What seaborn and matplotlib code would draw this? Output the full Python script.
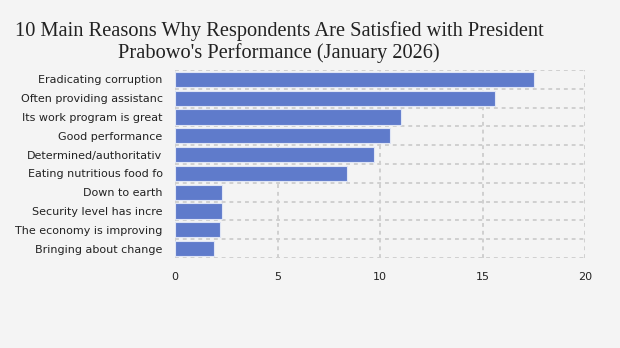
import matplotlib
matplotlib.use("Agg")
import matplotlib.pyplot as plt
import seaborn as sns
import pandas as pd

categories = [
    "Eradicating corruption",
    "Often providing assistanc",
    "Its work program is great",
    "Good performance",
    "Determined/authoritativ",
    "Eating nutritious food fo",
    "Down to earth",
    "Security level has incre",
    "The economy is improving",
    "Bringing about change",
]
values = [17.5, 15.6, 11.0, 10.5, 9.7, 8.4, 2.3, 2.3, 2.2, 1.9]
x_ticks = [0, 5, 10, 15, 20]

df = pd.DataFrame({"reason": categories, "pct": values})

sns.set_theme(style="white")
plt.rcParams["font.family"] = ["DejaVu Sans"]

bg = "#f4f4f4"
fig = plt.figure(figsize=(6.2, 3.48), dpi=100, facecolor=bg)
ax = fig.add_axes([175 / 620, 1 - 258 / 348, 410 / 620, 188 / 348])
ax.set_facecolor(bg)

sns.barplot(data=df, x="pct", y="reason", color="#5f7bcb", saturation=1,
            width=0.8, edgecolor="#dfe5f5", linewidth=0.8, ax=ax, zorder=3)

ax.set_xlim(0, 20)
ax.set_ylim(len(categories) - 0.5, -0.5)
ax.set_xticks(x_ticks)
ax.set_xticklabels([str(t) for t in x_ticks], fontsize=8, color="#222222")
ax.tick_params(axis="x", length=0, pad=10)
ax.tick_params(axis="y", length=3, color="#cccccc", width=1, pad=6, labelsize=8, labelcolor="#222222")
ax.set_xlabel("")
ax.set_ylabel("")

grid_kw = dict(color="#d0d0d0", linestyle=(0, (2, 2)), linewidth=1.4, zorder=1)
for t in x_ticks:
    ax.axvline(t, **grid_kw)
for b in range(len(categories) + 1):
    ax.axhline(b - 0.5, **grid_kw)

for s in ax.spines.values():
    s.set_visible(False)

fig.text(279 / 620, 1 - 42 / 348,
         "10 Main Reasons Why Respondents Are Satisfied with President\nPrabowo's Performance (January 2026)",
         ha="center", va="center", fontsize=14.7, family="Liberation Serif",
         color="#222222", linespacing=1.2)

fig.savefig("out.png", dpi=100, facecolor=bg)
